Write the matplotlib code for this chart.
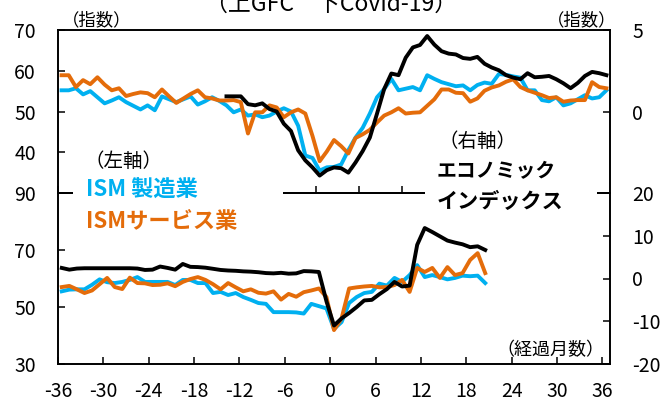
import numpy as np
import matplotlib
matplotlib.use("Agg")
import matplotlib.pyplot as plt
from matplotlib.patches import Rectangle

plt.rcParams['font.family'] = ['Noto Sans CJK JP', 'DejaVu Sans']
plt.rcParams['axes.unicode_minus'] = False

CYAN = '#00B0F0'
ORANGE = '#E46C0A'

# ---- top panel: GFC (months, 77 points) ----
top_months = np.arange(-38, 39)
top_ism_mfg = [55.2, 55.2, 55.7, 54.2, 55.0, 53.5, 52.0, 52.7, 53.5, 52.3,
               51.4, 50.5, 51.5, 50.3, 53.7, 53.0, 52.3, 53.0, 53.7, 51.7,
               52.5, 53.5, 52.6, 51.5, 49.8, 50.5, 49.0, 49.3, 48.6, 49.0,
               50.0, 50.8, 50.0, 46.5, 39.2, 38.6, 35.5, 36.3, 36.4, 37.0,
               40.5, 43.6, 46.0, 49.5, 53.5, 55.5, 58.0, 55.2, 55.6, 56.0,
               55.2, 58.9, 58.0, 57.2, 56.7, 56.2, 56.4, 55.2, 56.5, 57.1,
               56.8, 59.2, 59.0, 58.6, 58.3, 55.2, 55.2, 52.8, 52.5, 53.5,
               51.5, 52.0, 53.0, 54.0, 53.2, 53.5, 55.2]
top_ism_svc = [58.9, 58.9, 56.0, 57.7, 56.7, 58.4, 56.6, 55.2, 55.7, 53.8,
               54.3, 54.7, 54.5, 53.5, 55.4, 53.7, 52.1, 53.2, 54.3, 55.2,
               53.5, 53.2, 52.7, 52.7, 52.8, 52.3, 44.6, 49.8, 49.8, 51.5,
               51.0, 48.6, 49.8, 50.5, 49.5, 44.0, 37.8, 40.2, 43.0, 41.5,
               39.7, 43.5, 44.4, 45.5, 47.3, 49.0, 49.8, 50.8, 49.5, 49.7,
               49.8, 51.4, 53.0, 55.4, 55.4, 54.6, 54.5, 52.4, 53.2, 55.1,
               55.9, 56.4, 57.3, 57.9, 56.0, 55.2, 54.6, 54.0, 53.3, 53.5,
               52.4, 52.7, 52.8, 52.8, 57.2, 56.0, 55.7]
top_econ_months = np.arange(-15, 39)
top_econ = [0.93, 0.93, 0.93, 0.45, 0.38, 0.50, 0.15, 0.00, -0.75, -1.20,
            -2.38, -3.00, -3.43, -3.93, -3.60, -3.43, -3.48, -3.75, -3.13, -2.43,
            -1.60, -0.13, 1.38, 2.33, 2.23, 3.30, 3.93, 4.08, 4.63, 4.10,
            3.70, 3.55, 3.50, 3.28, 3.23, 3.35, 2.93, 2.70, 2.53, 2.23,
            2.08, 1.98, 2.35, 2.10, 2.13, 2.18, 1.98, 1.73, 1.43, 1.75,
            2.18, 2.43, 2.35, 2.23]

# ---- bottom panel: Covid-19 (months -36..20) ----
bot_months = np.arange(-36, 21)
bot_ism_mfg = [55.5, 56.1, 56.2, 56.2, 57.8, 59.7, 58.7, 58.4, 58.8, 59.5,
               60.5, 58.8, 58.8, 58.8, 58.8, 57.7, 59.5, 59.5, 58.4, 58.4,
               54.9, 55.3, 54.2, 54.9, 53.5, 52.5, 51.4, 51.1, 48.2, 48.2,
               48.2, 48.1, 47.7, 51.1, 50.3, 49.5,
               42.3, 44.7, 51.4, 53.5, 54.9, 55.3, 58.2, 57.5, 60.2, 58.8,
               61.2, 64.7, 60.5, 61.2, 60.5, 59.7, 60.2, 61.0, 60.8, 61.0, 58.4]
bot_ism_svc = [57.0, 57.4, 56.2, 54.9, 55.8, 58.0, 60.2, 57.0, 56.3, 60.3,
               58.4, 58.3, 57.7, 57.8, 58.3, 57.3, 58.8, 59.8, 60.5, 59.5,
               58.0, 56.2, 58.4, 56.9, 55.5, 56.2, 55.0, 54.7, 55.5, 52.6,
               54.6, 53.6, 55.2, 55.8, 56.5, 53.5,
               41.9, 46.0, 56.5, 56.9, 57.2, 57.4, 56.9, 57.0, 57.7, 59.5,
               55.3, 63.7, 62.3, 63.7, 60.2, 64.0, 61.2, 61.9, 66.5, 68.9, 61.9]
bot_econ = [2.47, 2.07, 2.33, 2.40, 2.40, 2.40, 2.40, 2.40, 2.40, 2.40,
            2.33, 2.00, 2.07, 2.80, 2.47, 2.07, 3.40, 2.73, 2.67, 2.53,
            2.27, 2.00, 1.87, 1.80, 1.67, 1.60, 1.47, 1.27, 1.20, 1.33,
            1.13, 1.20, 1.73, 1.67, 1.53, -5.33,
            -11.0, -9.33, -8.07, -6.67, -5.13, -5.00, -3.67, -2.47, -0.80, -1.87,
            -1.67, 7.87, 11.8, 10.87, 9.87, 8.87, 8.40, 8.00, 7.33, 7.53, 6.67]

W, H = 667, 403


def fx(px):
    return px / W


def fy(py):
    return 1 - py / H


fig = plt.figure(figsize=(W / 100, H / 100), dpi=100)
ax1 = fig.add_axes([fx(58), fy(193), fx(610) - fx(58), fy(30) - fy(193)])
ax2 = fig.add_axes([fx(58), fy(364), fx(610) - fx(58), fy(193) - fy(364)])
ax1r = ax1.twinx()
ax2r = ax2.twinx()

lw = 2.8
ax1.plot(top_months + 0.5, top_ism_mfg, color=CYAN, lw=lw)
ax1.plot(top_months + 0.5, top_ism_svc, color=ORANGE, lw=lw)
ax1r.plot(top_econ_months + 0.5, top_econ, color='black', lw=lw)

ax2.plot(bot_months + 0.5, bot_ism_mfg, color=CYAN, lw=lw)
ax2.plot(bot_months + 0.5, bot_ism_svc, color=ORANGE, lw=lw)
ax2r.plot(bot_months + 0.5, bot_econ, color='black', lw=lw)

ax1.set_xlim(-38, 39)
ax1.set_xticks(np.arange(-38, 39, 6))
ax1.set_xticklabels([])
ax1.set_ylim(30, 70)
ax1.set_yticks([40, 50, 60, 70])
ax1r.set_ylim(-5, 5)
ax1r.set_yticks([0, 5])

ax2.set_xlim(-36, 37)
ax2.set_xticks(np.arange(-36, 37, 6))
ax2.set_ylim(30, 90)
ax2.set_yticks([30, 50, 70, 90])
ax2r.set_ylim(-20, 20)
ax2r.set_yticks([-20, -10, 0, 10, 20])

for a in (ax1, ax2, ax1r, ax2r):
    for s in a.spines.values():
        s.set_linewidth(1.2)
        s.set_color('black')
    a.tick_params(direction='in', length=5, width=1.1, labelsize=14, colors='black')
for a in (ax1, ax2):
    a.tick_params(axis='y', pad=16)
    a.tick_params(axis='x', pad=12)
for a in (ax1r, ax2r):
    a.tick_params(axis='y', pad=16)

# white boxes behind the legend texts (they hide the middle spine)
fig.patches.append(Rectangle((fx(73), fy(210)), fx(283) - fx(73), fy(176) - fy(210),
                             transform=fig.transFigure, facecolor='white',
                             edgecolor='none', zorder=5))
fig.patches.append(Rectangle((fx(425), fy(212)), fx(597) - fx(425), fy(176) - fy(212),
                             transform=fig.transFigure, facecolor='white',
                             edgecolor='none', zorder=5))

fig.text(fx(331), fy(11), '（上GFC　下Covid-19）', ha='center', va='baseline', fontsize=16.5)
fig.text(fx(62), fy(20), '（指数）', ha='left', va='center', fontsize=12.5)
fig.text(fx(616), fy(20), '（指数）', ha='right', va='center', fontsize=12.5)
fig.text(fx(84), fy(161), '（左軸）', ha='left', va='center', fontsize=14, zorder=6)
fig.text(fx(86), fy(190), 'ISM 製造業', ha='left', va='center', fontsize=16,
         fontweight='bold', color=CYAN, zorder=6)
fig.text(fx(86), fy(222), 'ISMサービス業', ha='left', va='center', fontsize=16,
         fontweight='bold', color=ORANGE, zorder=6)
fig.text(fx(438), fy(141), '（右軸）', ha='left', va='center', fontsize=14, zorder=6)
fig.text(fx(437), fy(171), 'エコノミック', ha='left', va='center', fontsize=14.3,
         fontweight='bold', zorder=6)
fig.text(fx(437), fy(202), 'インデックス', ha='left', va='center', fontsize=15.2,
         fontweight='bold', zorder=6)
fig.text(fx(604), fy(350), '（経過月数）', ha='right', va='center', fontsize=13, zorder=6)

fig.savefig('out.png', dpi=100)
